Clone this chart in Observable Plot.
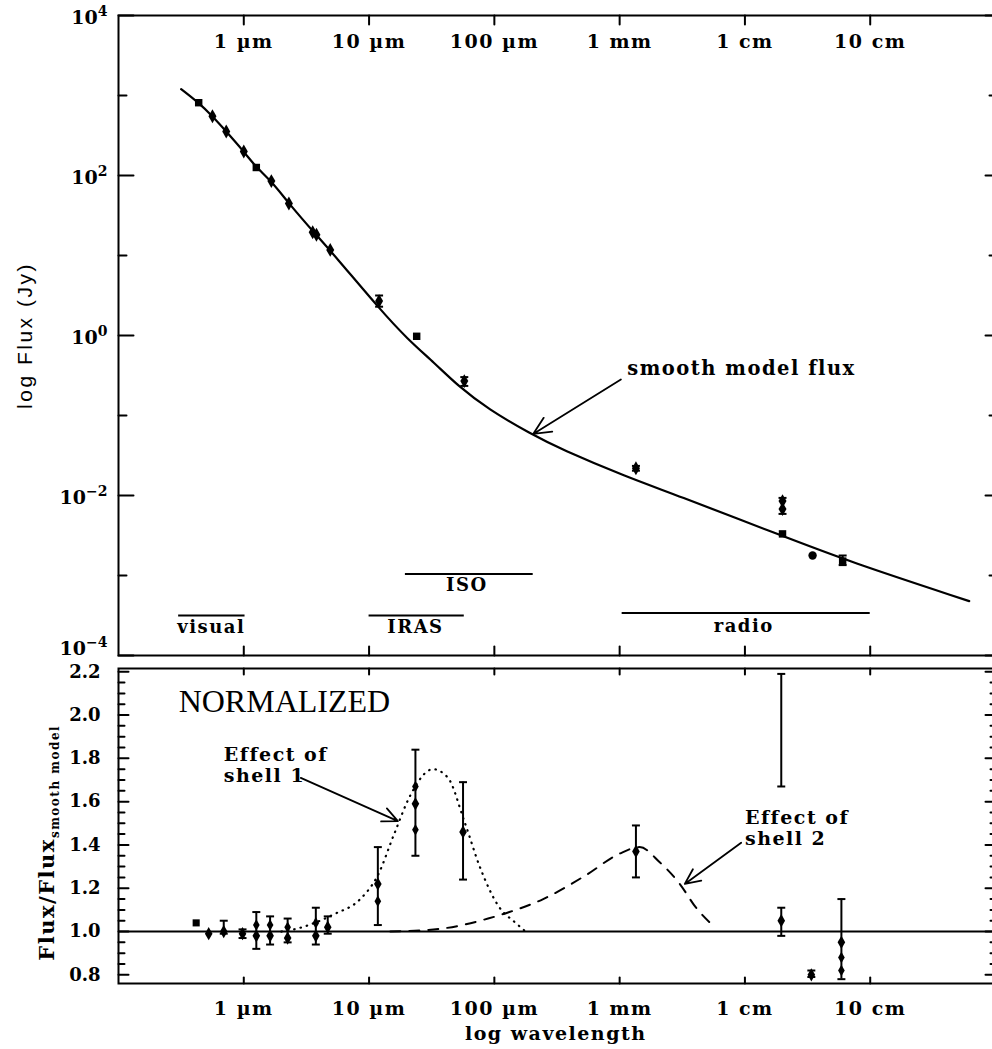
<!DOCTYPE html>
<html>
<head>
<meta charset="utf-8">
<script src="https://cdn.jsdelivr.net/npm/d3@7"></script>
<script src="https://cdn.jsdelivr.net/npm/@observablehq/plot@0.6"></script>
<style>
  html, body { margin: 0; padding: 0; background: #fff; overflow: hidden; }
  #chart { width: 992px; overflow: hidden; }
  #chart svg { display: block; max-width: none !important; }
</style>
</head>
<body>
<div id="chart"></div>
<script>
// ---------- axes (log10 of wavelength in µm, log10 of flux in Jy) ----------
const xDomain = [-1, 6.0];
const fluxDomain = [-4, 4];
const normDomain = [0.76, 2.215];
const decadeTicks = [0, 1, 2, 3, 4, 5];
const decadeLabels = ["1 µm", "10 µm", "100 µm", "1 mm", "1 cm", "10 cm"];
const fluxMajorTicks = [-4, -2, 0, 2, 4];
const fluxMinorTicks = [-3, -1, 1, 3];
const fluxTickLabels = ["10^-4", "10^-2", "10^0", "10^2", "10^4"];
const normMajorTicks = [0.8, 1.0, 1.2, 1.4, 1.6, 1.8, 2.0, 2.2];
const normTickLabels = ["0.8", "1.0", "1.2", "1.4", "1.6", "1.8", "2.0", "2.2"];
const normMinorTicks = [0.85, 0.9, 0.95, 1.05, 1.1, 1.15, 1.25, 1.3, 1.35, 1.45, 1.5, 1.55, 1.65, 1.7, 1.75, 1.85, 1.9, 1.95, 2.05, 2.1, 2.15];

// ---------- smooth model flux ----------
const modelLogLambda = [-0.50, -0.36, -0.25, -0.14, 0.00, 0.10, 0.22, 0.36, 0.57, 0.72, 1.09, 1.31, 1.52, 1.71, 1.95, 2.29, 2.53, 3.06, 3.43, 4.29, 4.82, 5.79];
const modelLogFlux   = [3.08, 2.91, 2.74, 2.55, 2.30, 2.10, 1.93, 1.65, 1.27, 1.01, 0.32, -0.05, -0.34, -0.63, -0.92, -1.23, -1.42, -1.77, -1.98, -2.50, -2.82, -3.32];

// ---------- observed fluxes ----------
const obsLogLambda = [-0.36, -0.25, -0.14, 0.00, 0.10, 0.22, 0.36, 0.55, 0.58, 0.69, 1.08, 1.38, 1.76, 3.13, 4.30, 4.30, 4.30, 4.54, 4.78];
const obsLogFlux   = [2.91, 2.74, 2.55, 2.30, 2.10, 1.93, 1.65, 1.29, 1.26, 1.07, 0.43, -0.01, -0.57, -1.66, -2.07, -2.17, -2.48, -2.75, -2.82];
const obsErrLo     = [null, null, null, null, null, null, null, null, null, null, 0.36, null, -0.63, -1.69, -2.23, null, null, null, -2.87];
const obsErrHi     = [null, null, null, null, null, null, null, null, null, null, 0.50, null, -0.52, -1.63, -2.03, null, null, null, -2.75];
const obsSymbol    = ["square", "diamond", "diamond", "diamond", "square", "diamond", "diamond", "diamond", "diamond", "diamond", "diamond", "square", "diamond", "diamond", "diamond", "diamond", "square", "circle", "square"];

// ---------- normalized fluxes ----------
const normLogLambda = [-0.38, -0.28, -0.16, -0.01, 0.10, 0.21, 0.35, 0.575, 0.67, 1.07, 1.37, 1.75, 3.13, 4.29, 4.53, 4.77];
const normRatio     = [1.04, 0.99, 1.00, 0.99, 0.98, 0.98, 0.97, 0.98, 1.02, 1.22, 1.59, 1.46, 1.37, 1.05, 0.80, 0.95];
const normLo        = [null, null, 0.99, 0.97, 0.92, 0.94, 0.95, 0.94, 0.99, 1.03, 1.35, 1.24, 1.25, 0.98, 0.79, 0.78];
const normHi        = [null, null, 1.05, 1.01, 1.09, 1.07, 1.06, 1.11, 1.07, 1.39, 1.84, 1.69, 1.49, 1.11, 0.82, 1.15];
const normSymbol    = ["square", "diamond", "diamond", "diamond", "diamond", "diamond", "diamond", "diamond", "diamond", "diamond", "diamond", "diamond", "diamond", "diamond", "diamond", "diamond"];
const extraLogLambda = [0.10, 0.21, 0.35, 0.575, 1.07, 1.37, 1.37, 4.77, 4.77];
const extraRatio     = [1.03, 1.03, 1.02, 1.04, 1.14, 1.67, 1.47, 0.88, 0.82];
const rangeOnlyLogLambda = [4.29];
const rangeOnlyLo = [1.67];
const rangeOnlyHi = [2.19];

// ---------- shell effects ----------
const shell1LogLambda = [0.30, 0.40, 0.72, 0.93, 1.07, 1.20, 1.33, 1.51, 1.63, 1.76, 1.89, 2.03, 2.17, 2.25];
const shell1Ratio     = [1.00, 1.01, 1.08, 1.15, 1.26, 1.45, 1.63, 1.75, 1.71, 1.51, 1.29, 1.12, 1.04, 1.00];
const shell2LogLambda = [1.17, 1.41, 1.60, 1.95, 2.12, 2.39, 2.73, 3.00, 3.16, 3.32, 3.48, 3.61, 3.76];
const shell2Ratio     = [1.00, 1.005, 1.015, 1.06, 1.09, 1.15, 1.26, 1.36, 1.39, 1.32, 1.22, 1.11, 1.02];

// ---------- instrument bands ----------
const bandNames = ["visual", "IRAS", "ISO", "radio"];
const bandFrom  = [-0.52, 1.00, 1.29, 3.02];
const bandTo    = [0.01, 1.76, 2.31, 5.00];
const bandLevel = [-3.50, -3.50, -2.98, -3.47];
const bandLabelX = [-0.26, 1.37, 1.78, 3.99];
const bandLabelY = [-3.65, -3.65, -3.12, -3.63];

// ---------- annotations ----------
const topNoteText = ["smooth model flux"];
const topNoteX = [3.06], topNoteY = [-0.42];
const topArrowFrom = [[3.01, -0.55]], topArrowTo = [[2.31, -1.23]];
const normNoteText = ["Effect of\nshell 1", "Effect of\nshell 2"];
const normNoteX = [-0.16, 4.00], normNoteY = [1.77, 1.48];
const normArrowFrom = [[0.455, 1.71], [3.97, 1.41]];
const normArrowTo   = [[1.23, 1.51], [3.52, 1.22]];

// ---------- build tables ----------
const model = modelLogLambda.map((x, i) => ({x, y: modelLogFlux[i]}));
const obs = obsLogLambda.map((x, i) => ({x, y: obsLogFlux[i], lo: obsErrLo[i], hi: obsErrHi[i], s: obsSymbol[i]}));
const obsErr = obs.filter(d => d.lo != null);
const norm = normLogLambda.map((x, i) => ({x, y: normRatio[i], lo: normLo[i], hi: normHi[i], s: normSymbol[i]}));
const normErr = norm.filter(d => d.lo != null).concat(rangeOnlyLogLambda.map((x, i) => ({x, lo: rangeOnlyLo[i], hi: rangeOnlyHi[i]})));
const extra = extraLogLambda.map((x, i) => ({x, y: extraRatio[i]}));
const shell1 = shell1LogLambda.map((x, i) => ({x, y: shell1Ratio[i]}));
const shell2 = shell2LogLambda.map((x, i) => ({x, y: shell2Ratio[i]}));
const bands = bandNames.map((name, i) => ({name, x1: bandFrom[i], x2: bandTo[i], y: bandLevel[i], lx: bandLabelX[i], ly: bandLabelY[i]}));
const topArrows = topArrowFrom.map((f, i) => ({x1: f[0], y1: f[1], x2: topArrowTo[i][0], y2: topArrowTo[i][1]}));
const normArrows = normArrowFrom.map((f, i) => ({x1: f[0], y1: f[1], x2: normArrowTo[i][0], y2: normArrowTo[i][1]}));
const fluxLabels = fluxMajorTicks.map((v, i) => ({v, label: fluxTickLabels[i]}));

const tickShape = {draw(context, l) { context.moveTo(0, 0); context.lineTo(0, -l); }};
const capSymbol = {draw(context, size) { const w = Math.sqrt(size) / 2; context.moveTo(-w, 0); context.lineTo(w, 0); }};

const serif = "DejaVu Serif";
const ink = "black";

function ticks(data, {x, y, rotate, length, sw = 2}) {
  return Plot.vector(data, {x, y, rotate, length, anchor: "start", shape: tickShape, stroke: ink, strokeWidth: sw});
}

const svgStyle = {background: "transparent", overflow: "visible", fontFamily: serif, maxWidth: "none"};

const topPlot = Plot.plot({
  width: 995, height: 660,
  marginLeft: 118, marginRight: 0, marginTop: 15, marginBottom: 5,
  style: svgStyle,
  x: {domain: xDomain, axis: null},
  y: {domain: fluxDomain, axis: null},
  marks: [
    Plot.frame({stroke: ink, strokeWidth: 2}),
    ticks(fluxMajorTicks, {x: () => xDomain[0], y: d => d, rotate: 90, length: 15}),
    ticks(fluxMinorTicks, {x: () => xDomain[0], y: d => d, rotate: 90, length: 8}),
    ticks(fluxMajorTicks, {x: () => xDomain[1], y: d => d, rotate: 270, length: 10}),
    ticks(fluxMinorTicks, {x: () => xDomain[1], y: d => d, rotate: 270, length: 6}),
    ticks(decadeTicks, {x: d => d, y: () => fluxDomain[1], rotate: 180, length: 9}),
    ticks(decadeTicks, {x: d => d, y: () => fluxDomain[0], rotate: 0, length: 9}),
    Plot.text(fluxLabels.filter(d => d.v > fluxDomain[0]), {x: () => xDomain[0], y: "v", text: "label", textAnchor: "end", dx: -11, dy: 2, fontSize: 19, fontWeight: "bold"}),
    Plot.text(fluxLabels.filter(d => d.v === fluxDomain[0]), {x: () => xDomain[0], y: "v", text: "label", textAnchor: "end", dx: -11, dy: -7, fontSize: 19, fontWeight: "bold"}),
    Plot.text(decadeTicks, {x: d => d, y: () => fluxDomain[1], text: (d, i) => decadeLabels[i], dy: 26, fontSize: 19, fontWeight: "bold"}),
    Plot.text([0], {x: () => xDomain[0], y: () => 0, text: () => "log Flux (Jy)", rotate: -90, dx: -93, fontFamily: "Liberation Sans", fontSize: 21}),
    Plot.line(model, {x: "x", y: "y", curve: "basis", stroke: ink, strokeWidth: 2.2}),
    Plot.ruleX(obsErr, {x: "x", y1: "lo", y2: "hi", stroke: ink, strokeWidth: 2}),
    Plot.dot(obsErr, {x: "x", y: "lo", symbol: capSymbol, r: 4.5, stroke: ink, strokeWidth: 2}),
    Plot.dot(obsErr, {x: "x", y: "hi", symbol: capSymbol, r: 4.5, stroke: ink, strokeWidth: 2}),
    Plot.dot(obs, {x: "x", y: "y", symbol: "s", r: 4.2, fill: ink, stroke: "none"}),
    Plot.ruleY(bands, {x1: "x1", x2: "x2", y: "y", stroke: ink, strokeWidth: 2}),
    Plot.text(bands, {x: "lx", y: "ly", text: "name", fontSize: 18, fontWeight: "bold"}),
    Plot.text(topNoteText, {x: (d, i) => topNoteX[i], y: (d, i) => topNoteY[i], text: d => d, textAnchor: "start", fontSize: 19.5, fontWeight: "bold"}),
    Plot.arrow(topArrows, {x1: "x1", y1: "y1", x2: "x2", y2: "y2", stroke: ink, strokeWidth: 1.8, headLength: 16, headAngle: 50})
  ]
});

const normPlot = Plot.plot({
  width: 995, height: 389,
  marginLeft: 118, marginRight: 0, marginTop: 8, marginBottom: 66,
  style: svgStyle,
  x: {domain: xDomain, axis: null},
  y: {domain: normDomain, axis: null},
  marks: [
    Plot.frame({stroke: ink, strokeWidth: 2}),
    ticks(normMajorTicks, {x: () => xDomain[0], y: d => d, rotate: 90, length: 10}),
    ticks(normMinorTicks, {x: () => xDomain[0], y: d => d, rotate: 90, length: 6}),
    ticks(normMajorTicks, {x: () => xDomain[1], y: d => d, rotate: 270, length: 10}),
    ticks(normMinorTicks, {x: () => xDomain[1], y: d => d, rotate: 270, length: 5}),
    ticks(decadeTicks, {x: d => d, y: () => normDomain[1], rotate: 180, length: 6}),
    ticks(decadeTicks, {x: d => d, y: () => normDomain[0], rotate: 0, length: 6}),
    Plot.text(normMajorTicks, {x: () => xDomain[0], y: d => d, text: (d, i) => normTickLabels[i], textAnchor: "end", dx: -18, fontSize: 18, fontWeight: "bold"}),
    Plot.text(decadeTicks, {x: d => d, y: () => normDomain[0], text: (d, i) => decadeLabels[i], dy: 25, fontSize: 19, fontWeight: "bold"}),
    Plot.text([0], {x: () => 2.49, y: () => normDomain[0], text: () => "log wavelength", dy: 50, fontSize: 19, fontWeight: "bold"}),
    Plot.text([0], {x: () => xDomain[0], y: () => 1.41, text: () => "Flux/Flux_smooth model", rotate: -90, dx: -71, fontSize: 21, fontWeight: "bold"}),
    Plot.ruleY([1], {stroke: ink, strokeWidth: 2}),
    Plot.line(shell1, {x: "x", y: "y", curve: "monotone-x", stroke: ink, strokeWidth: 2.2, strokeDasharray: "0.5,6", strokeLinecap: "round"}),
    Plot.line(shell2, {x: "x", y: "y", curve: "monotone-x", stroke: ink, strokeWidth: 2, strokeDasharray: "10,9"}),
    Plot.ruleX(normErr, {x: "x", y1: "lo", y2: "hi", stroke: ink, strokeWidth: 2}),
    Plot.dot(normErr, {x: "x", y: "lo", symbol: capSymbol, r: 4.5, stroke: ink, strokeWidth: 2}),
    Plot.dot(normErr, {x: "x", y: "hi", symbol: capSymbol, r: 4.5, stroke: ink, strokeWidth: 2}),
    Plot.dot(norm, {x: "x", y: "y", symbol: "s", r: 4, fill: ink, stroke: "none"}),
    Plot.dot(extra, {x: "x", y: "y", symbol: "diamond", r: 3.5, fill: ink, stroke: "none"}),
    Plot.text(["NORMALIZED"], {x: () => -0.52, y: () => 2.06, text: d => d, textAnchor: "start", fontFamily: "Liberation Serif", fontSize: 32}),
    Plot.text(normNoteText, {x: (d, i) => normNoteX[i], y: (d, i) => normNoteY[i], text: d => d, textAnchor: "start", fontSize: 19, fontWeight: "bold", lineHeight: 1.1}),
    Plot.arrow(normArrows, {x1: "x1", y1: "y1", x2: "x2", y2: "y2", stroke: ink, strokeWidth: 1.8, headLength: 14, headAngle: 50})
  ]
});

const chart = document.getElementById("chart");
chart.appendChild(topPlot);
chart.appendChild(normPlot);

// typographic touches: superscript exponents, subscript, letter spacing
const NS = "http://www.w3.org/2000/svg";
chart.querySelectorAll("text").forEach(t => {
  const s = t.textContent;
  let m = s.match(/^10\^(.+)$/);
  if (m) {
    t.textContent = "10";
    const ts = document.createElementNS(NS, "tspan");
    ts.setAttribute("dy", "-0.55em");
    ts.setAttribute("font-size", "14px");
    ts.textContent = m[1].replace("-", "−");
    t.appendChild(ts);
    return;
  }
  if (/^[0-9.]+$/.test(s) || s === "NORMALIZED") return;
  if (s === "log Flux (Jy)") { t.setAttribute("letter-spacing", "2.5px"); return; }
  m = s.match(/^(.+)_(.+)$/);
  if (m) {
    t.textContent = m[1];
    const ts = document.createElementNS(NS, "tspan");
    ts.setAttribute("dy", "0.4em");
    ts.setAttribute("font-size", "12px");
    ts.textContent = m[2];
    t.appendChild(ts);
  }
  t.setAttribute("letter-spacing", "1.5px");
});
</script>
</body>
</html>
